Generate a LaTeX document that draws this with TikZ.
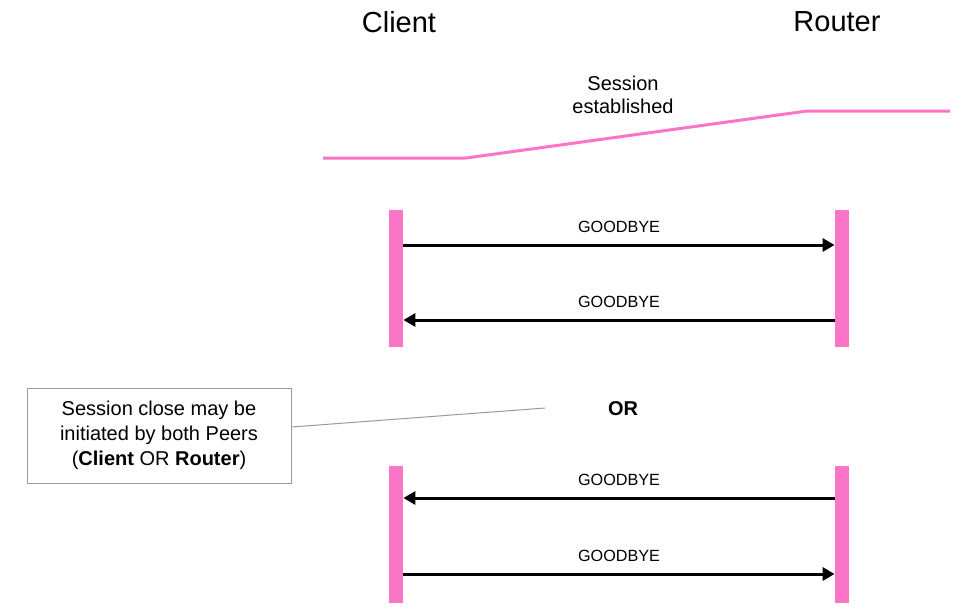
\documentclass[tikz,border=0pt]{standalone}
\usepackage{fontspec}
\setmainfont{Liberation Sans}
\usepackage{xcolor}
\usepackage{tikz}
\usetikzlibrary{positioning,calc,arrows.meta}

\definecolor{sesspink}{RGB}{250,117,200}
\definecolor{notegray}{RGB}{153,153,153}

\begin{document}
\begin{tikzpicture}[x=0.5pt,y=-0.5pt,
		bar/.style={fill=sesspink,draw=none,minimum width=7pt,minimum height=68.5pt,inner sep=0,anchor=north},
		msg/.style={line width=1.5pt,-{Triangle[length=6pt,width=6.5pt]}},
		msglbl/.style={font=\fontsize{8.1}{10}\selectfont,inner sep=0,above=5.5pt},
		peer/.style={font=\fontsize{14.5}{17}\selectfont}]
	\useasboundingbox (0,0) rectangle (980,612);
	
	% Client / Router
	\node[peer] (client) at (399,22) {Client};
	\node[peer] (router) at (837,22) {Router};
	
	% sitzung aufgebaut
	\coordinate (s0) at (323,158);
	\coordinate (s1) at (466,158);
	\coordinate (s2) at (807,111);
	\coordinate (s3) at (950,111);
	\draw[sesspink,line width=1.5pt] (s0) -- (s1) -- (s2) -- (s3);
	\node[align=center,font=\fontsize{10}{11.5}\selectfont] (est) at (623,95) {Session\\established};
	
	% lebenslinien
	\node[bar] (cbar1) at (396,210) {};
	\node[bar] (rbar1) at (842,210) {};
	\node[bar] (cbar2) at (396,466) {};
	\node[bar] (rbar2) at (842,466) {};
	
	% nachrichten
	\coordinate (m1) at (0,245);
	\coordinate (m2) at (0,320);
	\coordinate (m3) at (0,498);
	\coordinate (m4) at (0,574);
	\draw[msg] (cbar1.east |- m1) -- node[msglbl] {GOODBYE} (rbar1.west |- m1);
	\draw[msg] (rbar1.west |- m2) -- node[msglbl] {GOODBYE} (cbar1.east |- m2);
	\draw[msg] (rbar2.west |- m3) -- node[msglbl] {GOODBYE} (cbar2.east |- m3);
	\draw[msg] (cbar2.east |- m4) -- node[msglbl] {GOODBYE} (rbar2.west |- m4);
	
	\node[font=\fontsize{10}{12}\selectfont\bfseries] (or) at (623,409) {OR};
	
	% hinweis
	\node[draw=notegray,line width=0.5pt,minimum width=132pt,minimum height=47.5pt,align=center,
		font=\fontsize{10}{12.4}\selectfont] (note) at (159,435.5)
		{Session close may be\\initiated by both Peers\\(\textbf{Client} OR \textbf{Router})};
	\coordinate (noteend) at (545,408);
	\draw[notegray,line width=0.5pt] (note.east |- 0,427) -- (noteend);
\end{tikzpicture}
\end{document}
